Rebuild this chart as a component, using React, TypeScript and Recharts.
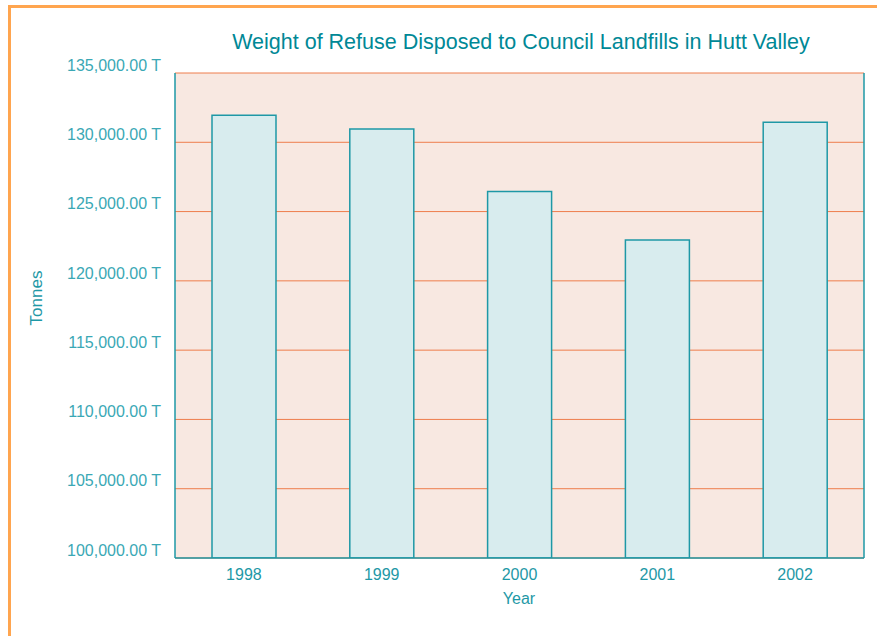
import React from 'react';
import { BarChart, Bar, XAxis, YAxis, CartesianGrid } from 'recharts';

const years = ['1998', '1999', '2000', '2001', '2002'];
const tonnes = [131950, 130950, 126450, 122950, 131450];
const yTicks = [100000, 105000, 110000, 115000, 120000, 125000, 130000, 135000];

const data = years.map((year, i) => ({ year, tonnes: tonnes[i] }));

const TEAL = '#1E98A6';
const TICK = '#3AA8B5';
const FONT = '"Liberation Sans", Arial, sans-serif';

const fmt = (v: number) =>
  v.toLocaleString('en-US', { minimumFractionDigits: 2, maximumFractionDigits: 2 }) + ' T';

export default function App() {
  return (
    <div style={{ position: 'fixed', left: 0, top: 0, width: 877, height: 636, background: '#fff', fontFamily: FONT }}>
      <div style={{ position: 'absolute', left: 8, top: 5, right: 0, bottom: 0, borderLeft: '3px solid #FFA54F', borderTop: '3px solid #FFA54F' }} />
      <div style={{ position: 'absolute', left: 521, top: 43, transform: 'translate(-50%,-50%)', whiteSpace: 'nowrap', fontSize: 21.5, lineHeight: 1, color: '#008896' }}>
        Weight of Refuse Disposed to Council Landfills in Hutt Valley
      </div>
      <div style={{ position: 'absolute', left: 36, top: 298, transform: 'translate(-50%,-50%) rotate(-90deg)', whiteSpace: 'nowrap', fontSize: 17, lineHeight: 1, color: TEAL }}>
        Tonnes
      </div>
      <div style={{ position: 'absolute', left: 519, top: 599, transform: 'translate(-50%,-50%)', whiteSpace: 'nowrap', fontSize: 16, lineHeight: 1, color: TEAL }}>
        Year
      </div>
      <BarChart width={877} height={636} data={data} margin={{ top: 73, right: 8, left: 0, bottom: 48 }} style={{ position: 'absolute', left: 0, top: 0 }}>
        <CartesianGrid yAxisId="left" vertical={false} horizontal stroke="#EE7D4C" strokeOpacity={1} fill="#F8E8E1" fillOpacity={1} />
        <XAxis
          dataKey="year"
          height={30}
          tickLine={false}
          tickSize={0}
          tickMargin={11}
          axisLine={{ stroke: TEAL, strokeWidth: 1.5 }}
          tick={{ fill: TEAL, fontSize: 16, fontFamily: FONT }}
        />
        <YAxis
          yAxisId="left"
          width={175}
          domain={[100000, 135000]}
          ticks={yTicks}
          interval={0}
          allowDataOverflow
          tickLine={false}
          tickSize={0}
          tickMargin={14}
          axisLine={{ stroke: TEAL, strokeWidth: 1.5 }}
          tickFormatter={fmt}
          tick={{ fill: TICK, fontSize: 16, fontFamily: FONT, dy: -8 }}
        />
        <YAxis
          yAxisId="right"
          orientation="right"
          width={5}
          domain={[100000, 135000]}
          tick={false}
          tickLine={false}
          axisLine={{ stroke: TEAL, strokeWidth: 1.5 }}
        />
        <Bar yAxisId="left" dataKey="tonnes" barSize={64} fill="#D8ECEE" stroke={TEAL} strokeWidth={1.5} isAnimationActive={false} />
      </BarChart>
    </div>
  );
}
